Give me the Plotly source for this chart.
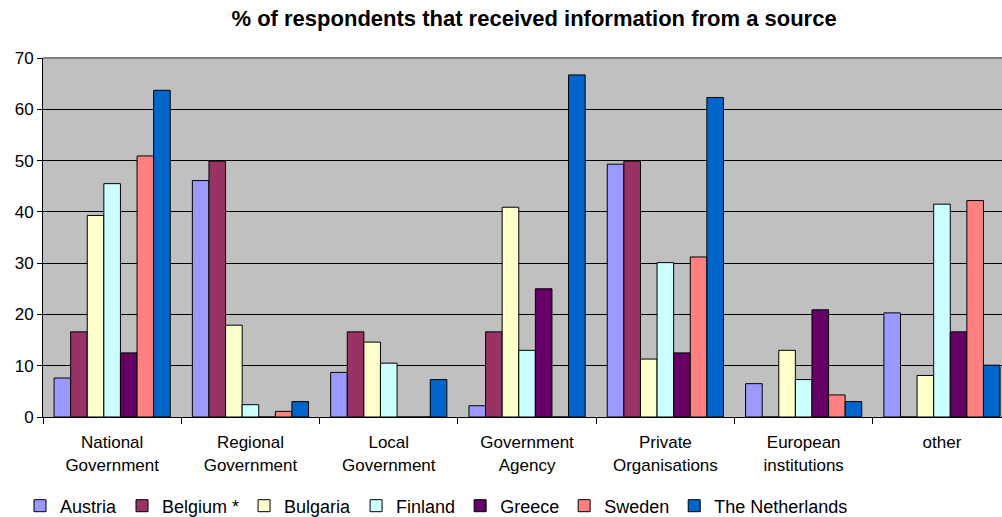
import plotly.graph_objects as go

categories = ["National<br>Government", "Regional<br>Government", "Local<br>Government",
              "Government<br>Agency", "Private<br>Organisations", "European<br>institutions", "other"]

austria = [7.6, 46.1, 8.7, 2.2, 49.3, 6.5, 20.3]
belgium = [16.6, 49.9, 16.6, 16.6, 49.9, 0, 0]
bulgaria = [39.3, 17.9, 14.6, 40.9, 11.3, 13.0, 8.1]
finland = [45.5, 2.4, 10.5, 13.0, 30.1, 7.3, 41.5]
greece = [12.5, 0, 0, 25.0, 12.5, 20.9, 16.6]
sweden = [50.9, 1.1, 0, 0, 31.2, 4.3, 42.2]
netherlands = [63.7, 3.0, 7.3, 66.7, 62.3, 3.0, 10.1]

series = [
    ("Austria", austria, "#9999FF"),
    ("Belgium *", belgium, "#993366"),
    ("Bulgaria", bulgaria, "#FFFFCC"),
    ("Finland", finland, "#CCFFFF"),
    ("Greece", greece, "#660066"),
    ("Sweden", sweden, "#FF8080"),
    ("The Netherlands", netherlands, "#0066CC"),
]

FONT = "Arial, Liberation Sans, sans-serif"

fig = go.Figure()
for name, vals, color in series:
    fig.add_trace(go.Bar(
        x=categories, y=vals, name=name,
        marker=dict(color=color, line=dict(color="#000000", width=1)),
    ))

fig.update_layout(
    width=1002, height=517,
    margin=dict(l=43, r=0, t=58, b=100),
    paper_bgcolor="#FFFFFF",
    plot_bgcolor="#C0C0C0",
    barmode="group", bargap=0.16, bargroupgap=0,
    font=dict(family=FONT, size=17, color="#000000"),
    title=dict(text="<b>% of respondents that received information from a source</b>",
               x=0.533, xanchor="center", y=1 - 18 / 517, yanchor="middle",
               font=dict(family=FONT, size=22, color="#000000")),
    legend=dict(orientation="h", xref="container", yref="container",
                x=20 / 1002, xanchor="left", y=(517 - 506) / 517, yanchor="middle",
                font=dict(family=FONT, size=18), itemclick=False,
                bgcolor="rgba(0,0,0,0)", traceorder="normal"),
    xaxis=dict(range=[-0.5, 6.434], showline=True, linecolor="#000000", linewidth=1,
               ticks="outside", ticklen=6, tickcolor="#000000", tickson="boundaries",
               ticklabelstandoff=10,
               showgrid=False, tickfont=dict(size=17)),
    yaxis=dict(range=[0, 70], dtick=10, showline=True, linecolor="#000000", linewidth=1,
               ticks="outside", ticklen=5, tickcolor="#000000",
               gridcolor="#000000", gridwidth=1, zeroline=False,
               tickfont=dict(size=17)),
    shapes=[dict(type="line", xref="paper", yref="paper", x0=0, x1=1, y0=1, y1=1,
                 line=dict(color="#808080", width=2), layer="above")],
)

fig.write_html("out.html")
